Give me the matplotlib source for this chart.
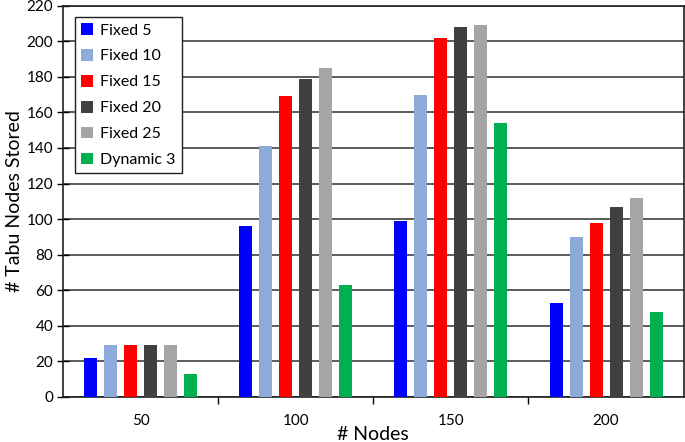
import matplotlib.pyplot as plt
import numpy as np

nodes = ['50', '100', '150', '200']
series = ['Fixed 5', 'Fixed 10', 'Fixed 15', 'Fixed 20', 'Fixed 25', 'Dynamic 3']
fixed5 = [22, 96, 99, 53]
fixed10 = [29, 141, 170, 90]
fixed15 = [29, 169, 202, 98]
fixed20 = [29, 179, 208, 107]
fixed25 = [29, 185, 209, 112]
dynamic3 = [13, 63, 154, 48]
colors = ['#0000ff', '#8eaadb', '#ff0000', '#404040', '#a5a5a5', '#00b050']

plt.rcParams['font.family'] = ['Lato', 'DejaVu Sans']

fig = plt.figure(figsize=(6.85, 4.42), dpi=100)
ax = fig.add_axes([0.092, 0.102, 0.906, 0.885])

x = np.arange(len(nodes))
slot = 0.129
width = 0.084
values = [fixed5, fixed10, fixed15, fixed20, fixed25, dynamic3]
for i, (name, vals) in enumerate(zip(series, values)):
    ax.bar(x + (i - 2.5) * slot, vals, width, color=colors[i], label=name, zorder=3)

ax.set_xlim(-0.5, 3.5)
ax.set_ylim(0, 220)
ax.set_yticks(range(0, 221, 20))
ax.yaxis.grid(True, color='#404040', linewidth=1.2, zorder=0)
ax.set_xticks(x)
ax.set_xticklabels(nodes, fontsize=11)
ax.set_xticks([0.5, 1.5, 2.5], minor=True)
ax.tick_params(axis='x', which='major', length=0, pad=12)
ax.tick_params(axis='x', which='minor', length=5, width=1, direction='out')
ax.tick_params(axis='y', length=8, width=1, direction='inout', labelsize=11, pad=3)
for s in ax.spines.values():
    s.set_color('#202020')
    s.set_linewidth(1.2)

ax.set_xlabel('# Nodes', fontsize=14, labelpad=-1)
ax.set_ylabel('# Tabu Nodes Stored', fontsize=14, labelpad=3)

leg = ax.legend(loc='upper left', bbox_to_anchor=(0.019, 0.972), fontsize=11.5,
                handlelength=0.75, handleheight=0.75, handletextpad=0.45,
                labelspacing=0.72, borderpad=0.4, borderaxespad=0, fancybox=False,
                framealpha=1)
leg.get_frame().set_edgecolor('#202020')
leg.get_frame().set_linewidth(1.0)

fig.savefig('out.png', dpi=100)
